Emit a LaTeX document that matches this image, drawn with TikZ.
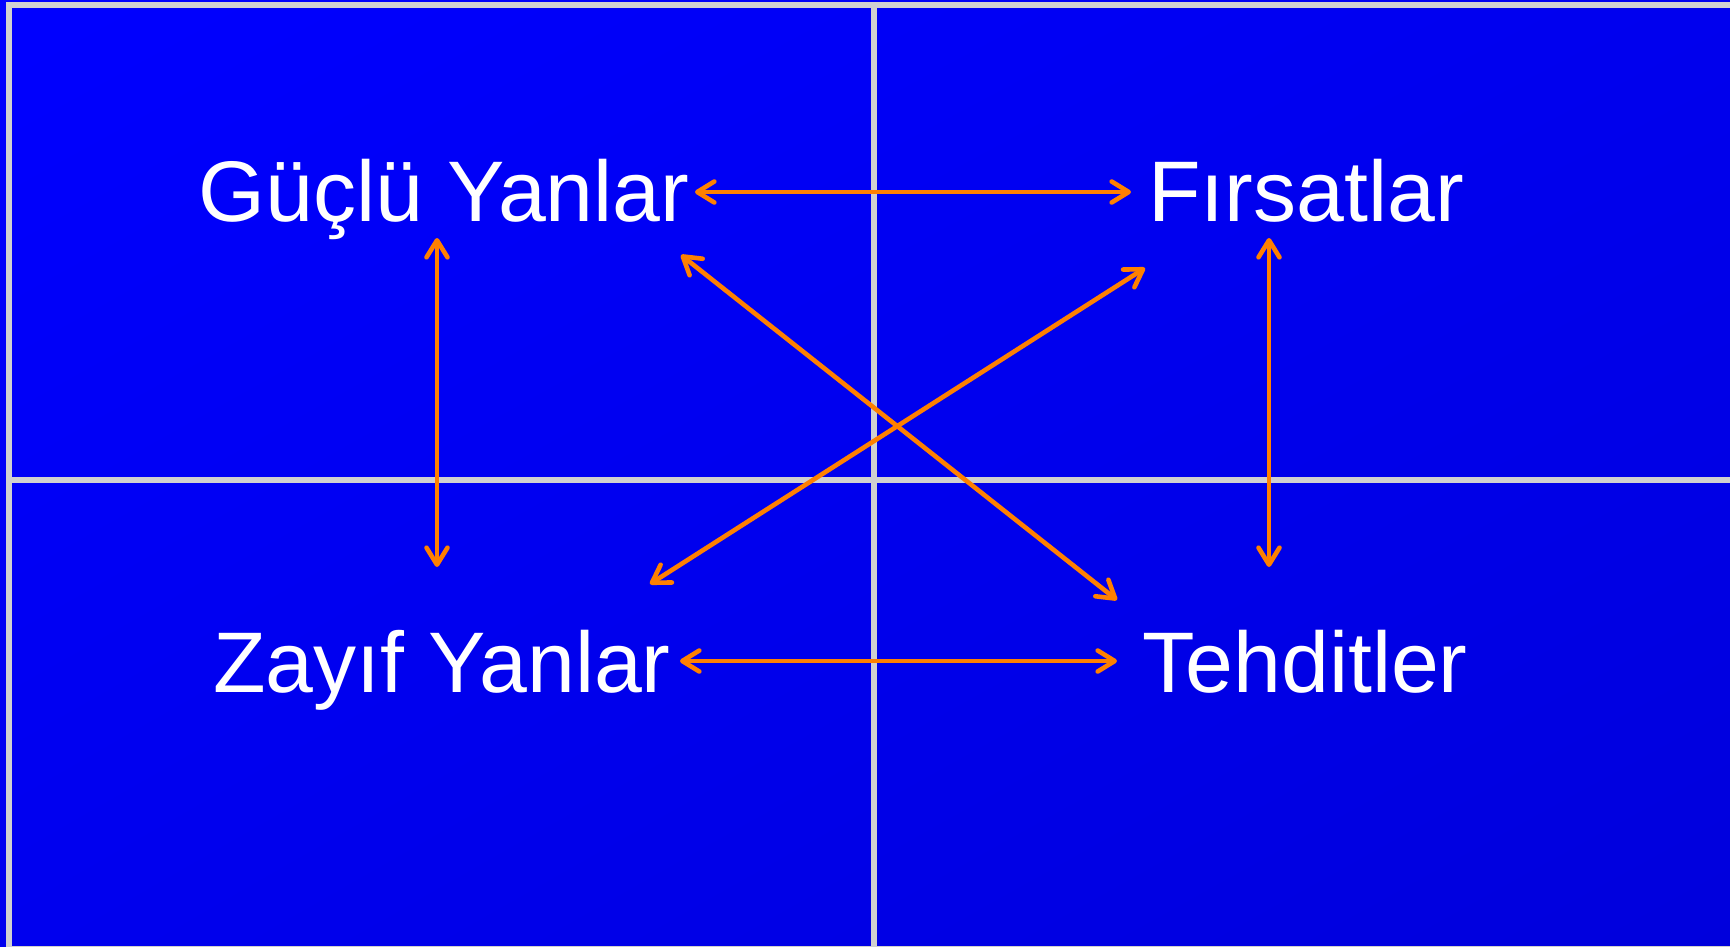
\documentclass[tikz,border=0pt]{standalone}
\usepackage{fontspec}
\setmainfont{Liberation Sans}
\usetikzlibrary{arrows.meta,calc,shadings}
\definecolor{bgA}{HTML}{0000FF}
\definecolor{bgB}{HTML}{0000EE}
\definecolor{bgC}{HTML}{0000DC}
\definecolor{gridgray}{HTML}{D0D0D0}
\definecolor{arrorange}{HTML}{FF8000}
\tikzset{
  lbl/.style={text=white, anchor=base, inner sep=0pt, text height=64pt, text depth=0pt,
    font=\fontsize{86}{100}\selectfont},
  gridline/.style={draw=gridgray, line width=6pt},
  arr/.style={draw=arrorange, line width=4.6pt, line cap=round,
    {Straight Barb[length=17pt,width=21pt,round]}-{Straight Barb[length=17pt,width=21pt,round]}}
}
\begin{document}
\begin{tikzpicture}[x=1pt,y=-1pt]
\useasboundingbox (0,0) rectangle (1730,946);
\shade[upper left=bgA, upper right=bgB, lower left=bgB, lower right=bgC] (0,0) rectangle (1730,946);
% grid
\draw[gridline] (9,5) -- (1735,5);
\draw[gridline] (9,2) -- (9,950);
\draw[gridline] (873.5,5) -- (873.5,950);
\draw[gridline] (9,480) -- (1735,480);
\draw[gridline] (9,949) -- (1735,949);
% labels
\node[lbl] (g) at (444,221) {Güçlü Yanlar};
\node[lbl] (f) at (1306,221) {Fırsatlar};
\node[lbl] (z) at (442,692) {Zayıf Yanlar};
\node[lbl] (t) at (1305,692) {Tehditler};
% arrows
\draw[arr] ($(g.center)+(251,3)$) -- ($(f.center)+(-175,3)$);
\draw[arr] ($(z.center)+(238,1)$) -- ($(t.center)+(-188,1)$);
\draw[arr] ($(g.center)+(-7,49)$) -- ($(z.center)+(-5,-93)$);
\draw[arr] ($(f.center)+(-37,49)$) -- ($(t.center)+(-36,-93)$);
\draw[arr] ($(g.center)+(237,66)$) -- ($(t.center)+(-188,-60)$);
\draw[arr] ($(z.center)+(208,-76)$) -- ($(f.center)+(-161,79)$);
\end{tikzpicture}
\end{document}
